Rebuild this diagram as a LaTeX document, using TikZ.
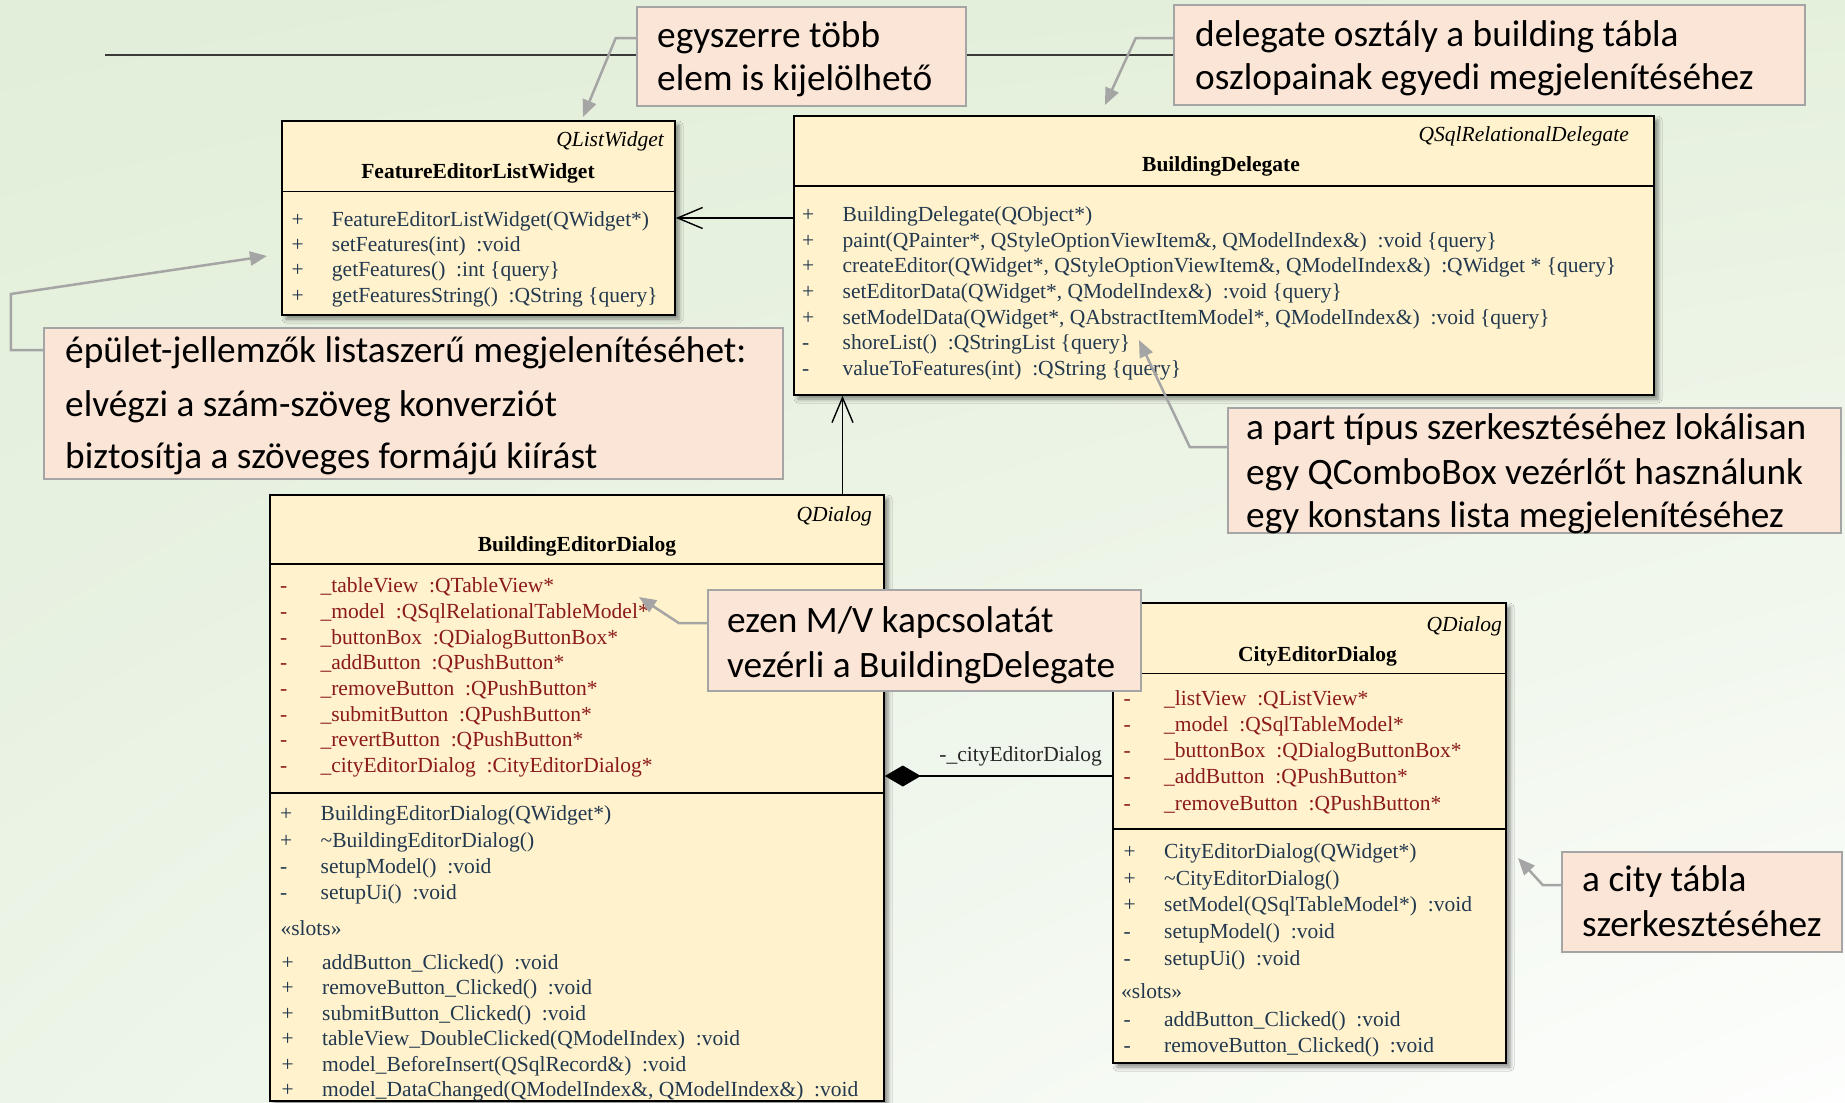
\documentclass[tikz,border=0pt]{standalone}
\usepackage{fontspec}
\newfontfamily\calfont{Carlito}
\newfontfamily\umlfont{Liberation Serif}
\usetikzlibrary{arrows.meta,shadows.blur,calc,shadings}

\definecolor{bgUL}{HTML}{E2EED9}
\definecolor{bgUR}{HTML}{E5F0DC}
\definecolor{bgLL}{HTML}{ECF4E7}
\definecolor{bgLR}{HTML}{FDFEFD}
\definecolor{clsfill}{HTML}{FFF2CC}
\definecolor{notefill}{HTML}{FBE5D6}
\definecolor{notedraw}{HTML}{A5A5A5}
\definecolor{opcol}{HTML}{22384F}
\definecolor{attcol}{HTML}{8B1A1A}
\definecolor{linecol}{HTML}{3A3A3A}

% two-space gap before a UML type, fixed-width visibility column
\newcommand\dsp{\hspace{0.5em}}
\newcommand\vis[1]{\makebox[40.5pt][l]{#1}}

\begin{document}
\begin{tikzpicture}[x=1pt,y=-1pt,
  cls/.style={draw=black, line width=1.6pt, fill=clsfill, inner sep=0pt,
    blur shadow={shadow xshift=4pt, shadow yshift=-4pt, shadow blur radius=4pt, shadow opacity=45}},
  clsline/.style={draw=black, line width=1.6pt},
  note/.style={draw=notedraw, line width=2.5pt, fill=notefill, inner sep=0pt},
  notetxt/.style={font=\calfont\fontsize{37.3}{44}\selectfont, anchor=base west, inner sep=0pt, text=black},
  umltxt/.style={font=\umlfont\fontsize{21.5}{25.7}\selectfont, inner sep=0pt},
  op/.style={umltxt, anchor=base west, text=opcol},
  att/.style={umltxt, anchor=base west, text=attcol},
  stereo/.style={inner sep=0pt, anchor=base east, font=\umlfont\itshape\fontsize{21.5}{25.7}\selectfont},
  clsname/.style={inner sep=0pt, anchor=base, font=\umlfont\bfseries\fontsize{21.5}{25.7}\selectfont},
  nav/.style={draw=black, line width=1.4pt, -{Straight Barb[length=25pt,width=21pt]}},
  comp/.style={draw=black, line width=1.5pt, -{Diamond[length=36pt,width=21pt]}},
  leader/.style={draw=notedraw, line width=2.5pt, -{Triangle[length=17pt,width=14pt]}},
]
\useasboundingbox (0,0) rectangle (1845,1103);

% background
\shade[upper left=bgUL, upper right=bgUR, lower left=bgLL, lower right=bgLR]
  (0,0) rectangle (1845,1103);

% ---------------- classes ----------------
\node[cls, minimum width=393pt, minimum height=194pt] (few) at (478.5,218) {};
\node[cls, minimum width=860pt, minimum height=279pt] (bd) at (1224,255.5) {};
\node[cls, minimum width=614pt, minimum height=606pt] (bed) at (577,798) {};
\node[cls, minimum width=393pt, minimum height=460pt] (ced) at (1309.5,833) {};

% compartment separators
\draw[clsline] (282,191.5) -- (675,191.5);
\draw[clsline] (794,186) -- (1654,186);
\draw[clsline] (270,564) -- (884,564);
\draw[clsline] (270,793) -- (884,793);
\draw[clsline] (1113,673.5) -- (1506,673.5);
\draw[clsline] (1113,829) -- (1506,829);

% FeatureEditorListWidget
\node[stereo] (few-st) at (664,146) {QListWidget};
\node[clsname] (few-nm) at (478,178) {FeatureEditorListWidget};
\foreach \t [count=\i] in {
  {\vis{+}FeatureEditorListWidget(QWidget*)},
  {\vis{+}setFeatures(int)\dsp:void},
  {\vis{+}getFeatures()\dsp:int \{query\}},
  {\vis{+}getFeaturesString()\dsp:QString \{query\}}}
  \node[op] (few-op\i) at (291.3,{226.5+25.2*(\i-1)}) {\t};

% BuildingDelegate
\node[stereo] (bd-st) at (1629,141.7) {QSqlRelationalDelegate};
\node[clsname] (bd-nm) at (1221,171.7) {BuildingDelegate};
\foreach \t [count=\i] in {
  {\vis{+}BuildingDelegate(QObject*)},
  {\vis{+}paint(QPainter*, QStyleOptionViewItem\&, QModelIndex\&)\dsp:void \{query\}},
  {\vis{+}createEditor(QWidget*, QStyleOptionViewItem\&, QModelIndex\&)\dsp:QWidget * \{query\}},
  {\vis{+}setEditorData(QWidget*, QModelIndex\&)\dsp:void \{query\}},
  {\vis{+}setModelData(QWidget*, QAbstractItemModel*, QModelIndex\&)\dsp:void \{query\}},
  {\vis{-}shoreList()\dsp:QStringList \{query\}},
  {\vis{-}valueToFeatures(int)\dsp:QString \{query\}}}
  \node[op] (bd-op\i) at (802,{221.7+25.6*(\i-1)}) {\t};

% BuildingEditorDialog
\node[stereo] (bed-st) at (872,521.7) {QDialog};
\node[clsname] (bed-nm) at (577,551.7) {BuildingEditorDialog};
\foreach \t [count=\i] in {
  {\vis{-}\_tableView\dsp:QTableView*},
  {\vis{-}\_model\dsp:QSqlRelationalTableModel*},
  {\vis{-}\_buttonBox\dsp:QDialogButtonBox*},
  {\vis{-}\_addButton\dsp:QPushButton*},
  {\vis{-}\_removeButton\dsp:QPushButton*},
  {\vis{-}\_submitButton\dsp:QPushButton*},
  {\vis{-}\_revertButton\dsp:QPushButton*},
  {\vis{-}\_cityEditorDialog\dsp:CityEditorDialog*}}
  \node[att] (bed-at\i) at (279.9,{592.7+25.7*(\i-1)}) {\t};
\foreach \t [count=\i] in {
  {\vis{+}BuildingEditorDialog(QWidget*)},
  {\vis{+}\textasciitilde BuildingEditorDialog()},
  {\vis{-}setupModel()\dsp:void},
  {\vis{-}setupUi()\dsp:void}}
  \node[op] (bed-op\i) at (280,{820.7+26.4*(\i-1)}) {\t};
\node[op] (bed-sl) at (280.4,935) {«slots»};
\foreach \t [count=\i] in {
  {\vis{+}addButton\_Clicked()\dsp:void},
  {\vis{+}removeButton\_Clicked()\dsp:void},
  {\vis{+}submitButton\_Clicked()\dsp:void},
  {\vis{+}tableView\_DoubleClicked(QModelIndex)\dsp:void},
  {\vis{+}model\_BeforeInsert(QSqlRecord\&)\dsp:void},
  {\vis{+}model\_DataChanged(QModelIndex\&, QModelIndex\&)\dsp:void}}
  \node[op] (bed-sop\i) at (281.5,{969.3+25.5*(\i-1)}) {\t};

% CityEditorDialog
\node[stereo] (ced-st) at (1502,631.7) {QDialog};
\node[clsname] (ced-nm) at (1317.5,661.7) {CityEditorDialog};
\foreach \t [count=\i] in {
  {\vis{-}\_listView\dsp:QListView*},
  {\vis{-}\_model\dsp:QSqlTableModel*},
  {\vis{-}\_buttonBox\dsp:QDialogButtonBox*},
  {\vis{-}\_addButton\dsp:QPushButton*},
  {\vis{-}\_removeButton\dsp:QPushButton*}}
  \node[att] (ced-at\i) at (1123.5,{705+26.25*(\i-1)}) {\t};
\foreach \t [count=\i] in {
  {\vis{+}CityEditorDialog(QWidget*)},
  {\vis{+}\textasciitilde CityEditorDialog()},
  {\vis{+}setModel(QSqlTableModel*)\dsp:void},
  {\vis{-}setupModel()\dsp:void},
  {\vis{-}setupUi()\dsp:void}}
  \node[op] (ced-op\i) at (1123.5,{858.3+26.7*(\i-1)}) {\t};
\node[op] (ced-sl) at (1121,998.3) {«slots»};
\foreach \t [count=\i] in {
  {\vis{-}addButton\_Clicked()\dsp:void},
  {\vis{-}removeButton\_Clicked()\dsp:void}}
  \node[op] (ced-sop\i) at (1123.5,{1026.7+25.6*(\i-1)}) {\t};

% ---------------- relations ----------------
\draw[nav] (bd.west |- few.east) -- (few.east);
\coordinate (vx) at (842.5,450);
\draw[nav] (vx |- bed.north) -- (vx |- bd.south);
\coordinate (cmp) at (1113,776);
\draw[comp] (cmp) -- (cmp -| bed.east);
\node[umltxt, anchor=base east, text=black!85] (cmp-lbl) at (1102,761.7) {-\_cityEditorDialog};

% ---------------- notes ----------------
\coordinate (tl) at (105,55);
\node[note, minimum width=631pt, minimum height=100pt] (c2) at (1489.5,55) {};
\draw[linecol, line width=1.5pt] (tl) -- (c2.west);

\node[note, minimum width=329pt, minimum height=99pt] (c1) at (801.5,56.5) {};
\node[notetxt] (c1-a) at (657,47) {egyszerre több};
\node[notetxt] (c1-b) at (657,90.5) {elem is kijelölhető};

\node[notetxt] (c2-a) at (1195,46) {delegate osztály a building tábla};
\node[notetxt] (c2-b) at (1195,89.5) {oszlopainak egyedi megjelenítéséhez};

\node[note, minimum width=739pt, minimum height=151pt] (c3) at (413.5,403.5) {};
\node[notetxt] (c3-a) at (65,362) {épület-jellemzők listaszerű megjelenítéséhet:};
\node[notetxt] (c3-b) at (65,416.5) {elvégzi a szám-szöveg konverziót};
\node[notetxt] (c3-c) at (65,468.5) {biztosítja a szöveges formájú kiírást};

\node[note, minimum width=433pt, minimum height=101pt] (c4) at (924.5,640.5) {};
\node[notetxt] (c4-a) at (727,632) {ezen M/V kapcsolatát};
\node[notetxt] (c4-b) at (727,677) {vezérli a BuildingDelegate};

\node[note, minimum width=613pt, minimum height=125pt] (c5) at (1534.5,470.5) {};
\node[notetxt] (c5-a) at (1246,439.5) {a part típus szerkesztéséhez lokálisan};
\node[notetxt] (c5-b) at (1246,484.5) {egy QComboBox vezérlőt használunk};
\node[notetxt] (c5-c) at (1246,527.5) {egy konstans lista megjelenítéséhez};

\node[note, minimum width=280pt, minimum height=100pt] (c6) at (1702,902) {};
\node[notetxt] (c6-a) at (1582,891.7) {a city tábla};
\node[notetxt] (c6-b) at (1582,936.7) {szerkesztéséhez};

% note leaders
\coordinate (t1) at (583,117);
\coordinate (t2) at (1105,105);
\coordinate (t3) at (267,256);
\coordinate (t4) at (639,597);
\coordinate (t5) at (1139,340);
\coordinate (t6) at (1518,858);
\draw[leader] ([yshift=18.5pt]c1.west) -- ++(-20,0) -- (t1);
\draw[leader] ([yshift=17pt]c2.west) -- ++(-37,0) -- (t2);
\draw[leader] ([yshift=53.5pt]c3.west) -- ++(-32,0) -- ++(0,-56) -- (t3);
\draw[leader] ([yshift=17.5pt]c4.west) -- ++(-28,0) -- (t4);
\draw[leader] ([yshift=23.5pt]c5.west) -- ++(-37,0) -- (t5);
\draw[leader] ([yshift=17pt]c6.west) -- ++(-18,0) -- (t6);
\end{tikzpicture}
\end{document}
